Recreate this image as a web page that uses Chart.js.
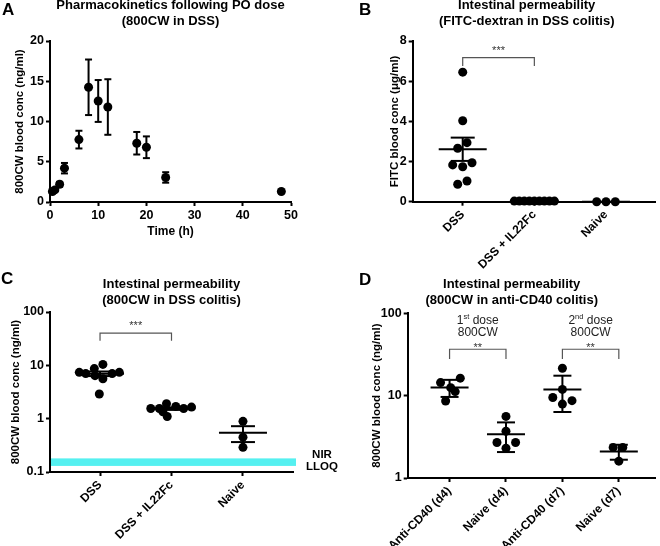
<!DOCTYPE html>
<html><head><meta charset="utf-8">
<script src="https://cdn.jsdelivr.net/npm/chart.js@4.4.1/dist/chart.umd.min.js"></script>
<style>
html,body{margin:0;padding:0;background:#fff;}
#wrap{position:relative;width:660px;height:546px;overflow:hidden;font-family:'Liberation Sans',Arial,Helvetica,sans-serif;}
canvas{position:absolute;}
.lbl{position:absolute;font-weight:bold;font-size:17px;line-height:17px;color:#000;}
</style></head><body>
<div id="wrap">
<canvas id="cA" width="330" height="245" style="left:0;top:0"></canvas>
<canvas id="cB" width="330" height="275" style="left:330px;top:0"></canvas>
<canvas id="cC" width="345" height="286" style="left:0;top:260px"></canvas>
<canvas id="cD" width="330" height="286" style="left:330px;top:260px"></canvas>
<div class="lbl" style="left:2px;top:1px">A</div>
<div class="lbl" style="left:359px;top:1px">B</div>
<div class="lbl" style="left:1px;top:270px">C</div>
<div class="lbl" style="left:359px;top:271px">D</div>
</div>
<script>
const F = "'Liberation Sans', Arial, Helvetica, sans-serif";

// ---- Panel A: pharmacokinetics (mean ± error) ----
const pkTime = [0.5, 1, 2, 3, 6, 8, 10, 12, 18, 20, 24, 48];
const pkMean = [1.3, 1.5, 2.2, 4.2, 7.75, 14.25, 12.55, 11.8, 7.3, 6.8, 3.05, 1.3];
const pkErr  = [0.15, 0.15, 0.3, 0.65, 1.1, 3.45, 2.6, 3.45, 1.4, 1.35, 0.65, 0.1];

// ---- Panel B: FITC-dextran (µg/ml) ----
const catsDSS = ['DSS', 'DSS + IL22Fc', 'Naive'];
const fitcDSS      = [6.45, 4.03, 2.94, 2.66, 1.83, 1.74, 1.94, 0.87, 1.03];
const fitcDSSJit   = [0, 0, 0.06, -0.07, -0.14, 0, 0.13, -0.07, 0.06];
const fitcIL22     = [0.03, 0.03, 0.03, 0.03, 0.03, 0.03, 0.03, 0.03, 0.03];
const fitcIL22Jit  = [-0.28, -0.21, -0.14, -0.07, 0, 0.07, 0.14, 0.21, 0.28];
const fitcNaive    = [0, 0, 0];
const fitcNaiveJit = [-0.13, 0, 0.13];

// ---- Panel C: 800CW in DSS colitis (ng/ml, log) ----
const cwDSS      = [7.4, 7.0, 8.7, 10.4, 6.4, 5.6, 7.4, 7.0, 2.9];
const cwDSSJit   = [-0.29, -0.2, -0.08, 0.04, -0.07, 0.04, 0.27, 0.17, -0.01];
const cwIL22     = [1.55, 1.55, 1.9, 1.1, 1.7, 1.55, 1.65, 1.35];
const cwIL22Jit  = [-0.29, -0.17, -0.07, -0.06, 0.06, 0.17, 0.28, -0.12];
const cwNaive    = [0.89, 0.45, 0.29];
const cwNaiveJit = [0, 0, 0];
const lloqLo = 0.13, lloqHi = 0.18;
const logTicksC = [0.1, 1, 10, 100];

// ---- Panel D: 800CW in anti-CD40 colitis (ng/ml, log) ----
const catsCD40 = ['Anti-CD40 (d4)', 'Naive (d4)', 'Anti-CD40 (d7)', 'Naive (d7)'];
const antiD4    = [14.4, 16.3, 12.5, 11.2, 8.6];
const antiD4Jit = [-0.16, 0.19, 0.02, 0.1, -0.07];
const naiveD4    = [5.6, 2.7, 2.7, 2.3, 3.7];
const naiveD4Jit = [0, -0.16, 0.17, 0, 0];
const antiD7    = [21.5, 11.9, 9.5, 8.7, 7.9];
const antiD7Jit = [0, 0, -0.17, 0.17, 0];
const naiveD7    = [2.35, 2.35, 1.6];
const naiveD7Jit = [-0.1, 0.07, 0];
const logTicksD = [1, 10, 100];

function mean(a){return a.reduce((s,v)=>s+v,0)/a.length;}
function sd(a){ if(a.length<2) return 0; const m=mean(a); return Math.sqrt(a.reduce((s,v)=>s+(v-m)*(v-m),0)/(a.length-1)); }
function sem(a){ return sd(a)/Math.sqrt(a.length); }

function makeDecor(cfg){
  return {
    id: 'decor',
    beforeDatasetsDraw(chart){
      const band = cfg.band; if (!band) return;
      const ctx = chart.ctx, ys = chart.scales.y, a = chart.chartArea;
      const y1 = ys.getPixelForValue(band.hi), y2 = ys.getPixelForValue(band.lo);
      ctx.save();
      ctx.fillStyle = band.color;
      ctx.fillRect(a.left + 1, y1, a.right - a.left + band.extend, y2 - y1);
      ctx.restore();
    },
    afterDatasetsDraw(chart){
      const ctx = chart.ctx, xs = chart.scales.x, ys = chart.scales.y, a = chart.chartArea;
      const seg = (x1,y1,x2,y2) => { ctx.beginPath(); ctx.moveTo(x1,y1); ctx.lineTo(x2,y2); ctx.stroke(); };
      ctx.save();
      ctx.strokeStyle = '#000'; ctx.lineWidth = 2; ctx.lineCap = 'butt';
      if (cfg.errorBars) {
        const eb = cfg.errorBars;
        eb.x.forEach((xv, i) => {
          const e = eb.err[i]; if (!e) return;
          const x = xs.getPixelForValue(xv);
          const yt = ys.getPixelForValue(eb.y[i] + e), yb = ys.getPixelForValue(eb.y[i] - e);
          seg(x, yt, x, yb); seg(x - eb.cap, yt, x + eb.cap, yt); seg(x - eb.cap, yb, x + eb.cap, yb);
        });
      }
      if (cfg.groups) {
        cfg.groups.forEach((g, i) => {
          const m = mean(g), e = cfg.err === 'sd' ? sd(g) : sem(g);
          const x = xs.getPixelForValue(i);
          const ym = ys.getPixelForValue(m), yt = ys.getPixelForValue(m + e), yb = ys.getPixelForValue(Math.max(m - e, 1e-6));
          seg(x - cfg.meanHalf, ym, x + cfg.meanHalf, ym);
          if (e > 0) {
            seg(x, yt, x, yb);
            seg(x - cfg.capHalf, yt, x + cfg.capHalf, yt);
            seg(x - cfg.capHalf, yb, x + cfg.capHalf, yb);
          }
        });
      }
      if (cfg.brackets) {
        cfg.brackets.forEach(b => {
          const x1 = xs.getPixelForValue(b.from), x2 = xs.getPixelForValue(b.to);
          const yt = ys.getPixelForValue(b.top), yl = ys.getPixelForValue(b.leg);
          ctx.strokeStyle = '#555'; ctx.lineWidth = 1.2;
          ctx.beginPath(); ctx.moveTo(x1, yl); ctx.lineTo(x1, yt); ctx.lineTo(x2, yt); ctx.lineTo(x2, yl); ctx.stroke();
          const cx = (x1 + x2) / 2;
          ctx.fillStyle = '#333'; ctx.textAlign = 'center'; ctx.textBaseline = 'alphabetic';
          ctx.font = `11px ${F}`;
          ctx.fillText(b.label, cx, yt - b.starGap);
          if (b.note) {
            ctx.fillStyle = '#222'; ctx.textBaseline = 'middle';
            ctx.font = `12px ${F}`; const w1 = ctx.measureText(b.note.n).width; const w3 = ctx.measureText(' dose').width;
            ctx.font = `7.5px ${F}`; const w2 = ctx.measureText(b.note.sup).width;
            let x0 = cx - (w1 + w2 + w3) / 2; const y1 = yt - 29;
            ctx.textAlign = 'left';
            ctx.font = `12px ${F}`; ctx.fillText(b.note.n, x0, y1);
            ctx.font = `7.5px ${F}`; ctx.fillText(b.note.sup, x0 + w1, y1 - 3);
            ctx.font = `12px ${F}`; ctx.fillText(' dose', x0 + w1 + w2, y1);
            ctx.textAlign = 'center';
            ctx.fillText('800CW', cx, yt - 17);
          }
        });
      }
      if (cfg.band && cfg.band.text) {
        const yc = (ys.getPixelForValue(cfg.band.hi) + ys.getPixelForValue(cfg.band.lo)) / 2;
        ctx.fillStyle = '#000'; ctx.textAlign = 'center'; ctx.textBaseline = 'middle';
        ctx.font = `bold 11.5px ${F}`;
        ctx.fillText(cfg.band.text[0], a.right + 29, yc - 7);
        ctx.fillText(cfg.band.text[1], a.right + 29, yc + 5);
      }
      ctx.restore();
    }
  };
}

const tickFont = {size: 12.5, weight: 'bold', family: F};
const catFont = {size: 12, weight: 'bold', family: F};
const axTitleFont = {size: 11.5, weight: 'bold', family: F, lineHeight: 1.2};
const titleFont = {size: 13, weight: 'bold', family: F, lineHeight: 1.2};
const gridOpt = {display: true, drawOnChartArea: false, drawTicks: true, tickLength: 4, tickWidth: 2, tickColor: '#000'};
const borderOpt = {display: true, width: 2, color: '#000'};

function groupDatasets(groups, jits){
  return groups.map((g, i) => ({
    data: g.map((v, k) => ({x: i + jits[i][k], y: v})),
    pointRadius: 4.5, pointBackgroundColor: '#000', pointBorderWidth: 0, showLine: false, clip: false
  }));
}

function catXAxis(cats, min, max, h){
  return {
    type: 'linear', min: min, max: max,
    afterBuildTicks: s => { s.ticks = cats.map((c, i) => ({value: i})); },
    afterFit: s => { s.height = h; },
    ticks: {callback: v => cats[Math.round(v)], font: catFont, color: '#000', minRotation: 45, maxRotation: 45, autoSkip: false, padding: 2},
    grid: gridOpt, border: borderOpt
  };
}

function common(padding, title, titlePad, fullSize){
  return {
    responsive: false, animation: false, events: [],
    layout: {padding: padding},
    plugins: {
      legend: {display: false}, tooltip: {enabled: false},
      title: {display: true, fullSize: fullSize, text: title, font: titleFont, color: '#000', padding: titlePad}
    }
  };
}

// ---- Chart A ----
(function(){
  const o = common({left: 10, right: 39, top: 0, bottom: 0}, ['Pharmacokinetics following PO dose', '(800CW in DSS)'], {top: -2, bottom: 11.8}, false);
  o.scales = {
    x: {type: 'linear', min: 0, max: 50, ticks: {stepSize: 10, font: tickFont, color: '#000', padding: 2, maxRotation: 0},
        afterFit: s => { s.height = 43; },
        title: {display: true, text: 'Time (h)', font: {size: 12, weight: 'bold', family: F, lineHeight: 1.2}, color: '#000', padding: {top: 0, bottom: 5.8}},
        grid: gridOpt, border: borderOpt},
    y: {type: 'linear', min: 0, max: 20, ticks: {stepSize: 5, font: tickFont, color: '#000', padding: 2},
        afterFit: s => { s.width = 40; },
        title: {display: true, text: '800CW blood conc (ng/ml)', font: axTitleFont, color: '#000', padding: {top: 3.1, bottom: 0}},
        grid: gridOpt, border: borderOpt}
  };
  new Chart(document.getElementById('cA'), {
    type: 'scatter',
    data: {datasets: [{data: pkTime.map((t, i) => ({x: t, y: pkMean[i]})), pointRadius: 4.5, pointBackgroundColor: '#000', pointBorderWidth: 0, showLine: false, clip: false}]},
    options: o,
    plugins: [makeDecor({errorBars: {x: pkTime, y: pkMean, err: pkErr, cap: 3.5}})]
  });
})();

// ---- Chart B ----
(function(){
  const o = common({left: 68.4, right: 5, top: 0, bottom: 0}, ['Intestinal permeability', '(FITC-dextran in DSS colitis)'], {top: -2, bottom: 11.8}, true);
  o.scales = {
    x: catXAxis(catsDSS, -0.698, 2.684, 73.3),
    y: {type: 'linear', min: 0, max: 8, ticks: {stepSize: 2, font: tickFont, color: '#000', padding: 2},
        afterFit: s => { s.width = 14.3; },
        title: {display: true, text: 'FITC blood conc (\u03bcg/ml)', font: axTitleFont, color: '#000', padding: {top: -10.3, bottom: 0}},
        grid: gridOpt, border: borderOpt}
  };
  const groups = [fitcDSS, fitcIL22, fitcNaive];
  new Chart(document.getElementById('cB'), {
    type: 'scatter',
    data: {datasets: groupDatasets(groups, [fitcDSSJit, fitcIL22Jit, fitcNaiveJit])},
    options: o,
    plugins: [makeDecor({groups: groups, err: 'sem', meanHalf: 24, capHalf: 12,
      brackets: [{from: 0, to: 1, top: 7.17, leg: 6.75, label: '***', starGap: 4}]})]
  });
})();

// ---- Chart C ----
(function(){
  const o = common({left: 8, right: 52, top: 0, bottom: 0}, ['Intestinal permeability', '(800CW in DSS colitis)'], {top: 16.7, bottom: 4.1}, false);
  o.scales = {
    x: catXAxis(catsDSS, -0.7, 2.7, 74),
    y: {type: 'logarithmic', min: 0.1, max: 100,
        afterBuildTicks: s => { s.ticks = logTicksC.map(v => ({value: v})); },
        ticks: {callback: v => String(v), font: tickFont, color: '#000', padding: 2, autoSkip: false},
        afterFit: s => { s.width = 42; },
        title: {display: true, text: '800CW blood conc (ng/ml)', font: axTitleFont, color: '#000', padding: {top: 1.1, bottom: 0}},
        grid: gridOpt, border: borderOpt}
  };
  const groups = [cwDSS, cwIL22, cwNaive];
  new Chart(document.getElementById('cC'), {
    type: 'scatter',
    data: {datasets: groupDatasets(groups, [cwDSSJit, cwIL22Jit, cwNaiveJit])},
    options: o,
    plugins: [makeDecor({groups: groups, err: 'sem', meanHalf: 24, capHalf: 12,
      band: {lo: lloqLo, hi: lloqHi, color: '#55F0F0', extend: 2, text: ['NIR', 'LLOQ']},
      brackets: [{from: 0, to: 1, top: 40, leg: 29, label: '***', starGap: 4}]})]
  });
})();

// ---- Chart D ----
(function(){
  const o = common({left: 35.4, right: 2, top: 0, bottom: 0}, ['Intestinal permeability', '(800CW in anti-CD40 colitis)'], {top: 16.7, bottom: 5.4}, true);
  o.scales = {
    x: catXAxis(catsCD40, -0.742, 3.65, 68),
    y: {type: 'logarithmic', min: 1, max: 100,
        afterBuildTicks: s => { s.ticks = logTicksD.map(v => ({value: v})); },
        ticks: {callback: v => String(v), font: tickFont, color: '#000', padding: 2, autoSkip: false},
        afterFit: s => { s.width = 42.3; },
        title: {display: true, text: '800CW blood conc (ng/ml)', font: axTitleFont, color: '#000', padding: {top: 4.4, bottom: 0}},
        grid: gridOpt, border: borderOpt}
  };
  const groups = [antiD4, naiveD4, antiD7, naiveD7];
  new Chart(document.getElementById('cD'), {
    type: 'scatter',
    data: {datasets: groupDatasets(groups, [antiD4Jit, naiveD4Jit, antiD7Jit, naiveD7Jit])},
    options: o,
    plugins: [makeDecor({groups: groups, err: 'sd', meanHalf: 19, capHalf: 9,
      brackets: [
        {from: 0, to: 1, top: 36.6, leg: 27.9, label: '**', starGap: -2, note: {n: '1', sup: 'st'}},
        {from: 2, to: 3, top: 36.6, leg: 27.9, label: '**', starGap: -2, note: {n: '2', sup: 'nd'}}
      ]})]
  });
})();
</script>
</body></html>
